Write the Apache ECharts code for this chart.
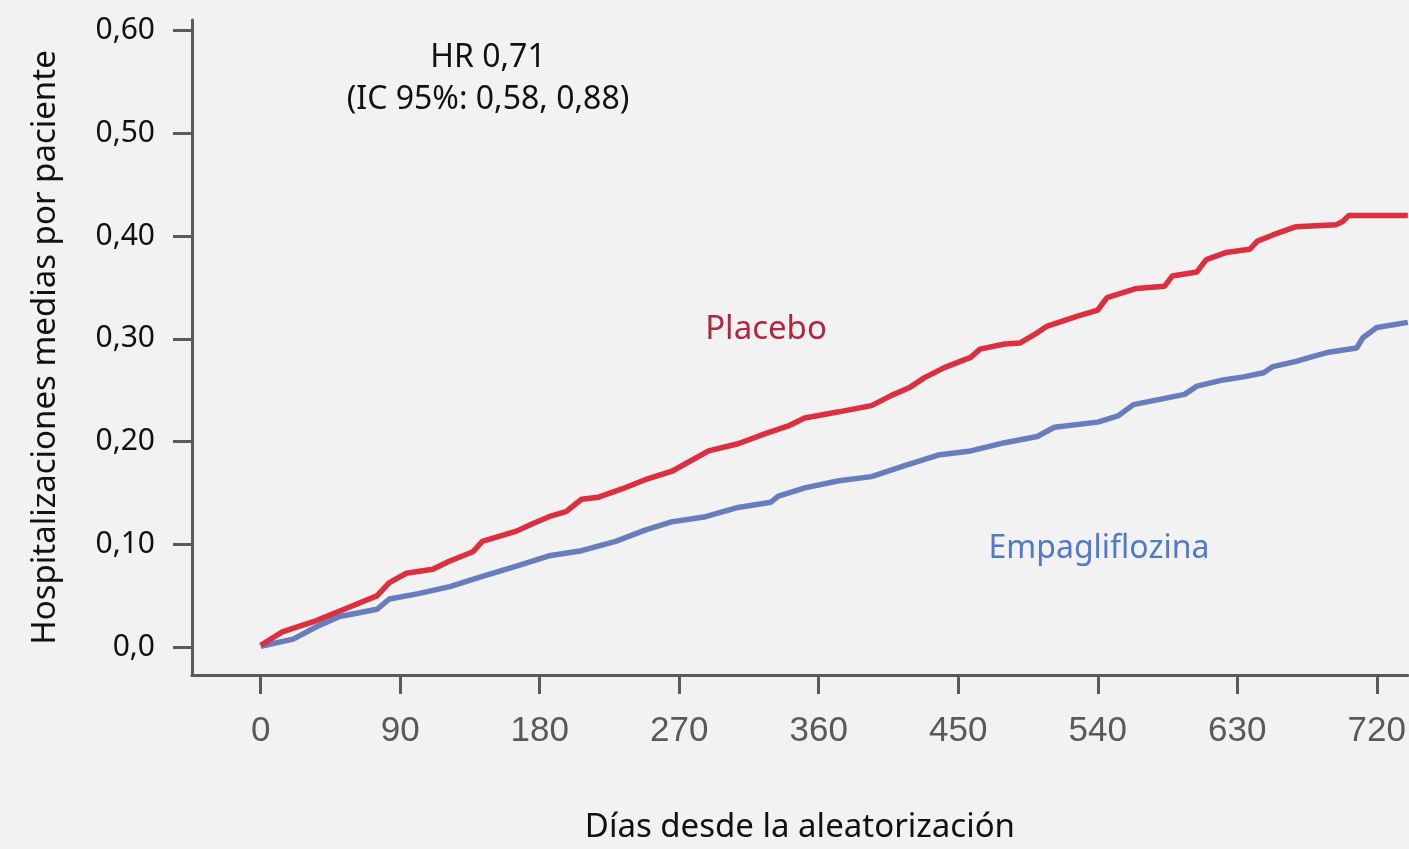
<!DOCTYPE html>
<html>
<head>
<meta charset="utf-8">
<script src="https://cdn.jsdelivr.net/npm/echarts@6/dist/echarts.min.js"></script>
<style>
  html, body { margin: 0; padding: 0; background: #f2f2f2; }
  #chart { width: 1409px; height: 849px; }
</style>
</head>
<body>
<div id="chart"></div>
<script>
// días desde la aleatorización / hospitalizaciones medias
const placeboDays = [0, 14, 36, 57, 75, 83, 94, 111, 122, 137, 143, 165, 175, 186, 197, 207, 218, 233, 248, 265, 289, 308, 326, 340, 351, 373, 394, 407, 419, 428, 441, 458, 464, 480, 490, 499, 507, 527, 540, 546, 565, 583, 588, 604, 610, 623, 638, 643, 653, 662, 668, 694, 698, 702, 740]
const placeboValues = [0.002, 0.015, 0.026, 0.039, 0.050, 0.063, 0.072, 0.076, 0.084, 0.093, 0.103, 0.113, 0.120, 0.127, 0.132, 0.144, 0.146, 0.154, 0.163, 0.171, 0.191, 0.198, 0.208, 0.215, 0.223, 0.229, 0.235, 0.245, 0.253, 0.262, 0.272, 0.282, 0.290, 0.295, 0.296, 0.304, 0.312, 0.322, 0.328, 0.340, 0.349, 0.351, 0.361, 0.365, 0.377, 0.384, 0.387, 0.395, 0.401, 0.406, 0.409, 0.411, 0.414, 0.420, 0.420]

const empaDays = [0, 21, 36, 51, 75, 83, 101, 122, 143, 165, 186, 207, 229, 248, 265, 287, 308, 329, 334, 351, 373, 394, 416, 437, 458, 480, 501, 512, 540, 553, 563, 596, 604, 621, 634, 647, 653, 668, 679, 689, 707, 711, 720, 740]
const empaValues = [0.001, 0.008, 0.020, 0.030, 0.037, 0.047, 0.052, 0.059, 0.069, 0.079, 0.089, 0.094, 0.103, 0.114, 0.122, 0.127, 0.136, 0.141, 0.147, 0.155, 0.162, 0.166, 0.177, 0.187, 0.191, 0.199, 0.205, 0.214, 0.219, 0.225, 0.236, 0.246, 0.254, 0.260, 0.263, 0.267, 0.273, 0.278, 0.283, 0.287, 0.291, 0.301, 0.311, 0.316]

const xTicks = [0, 90, 180, 270, 360, 450, 540, 630, 720]
const yTicks = [0, 0.1, 0.2, 0.3, 0.4, 0.5, 0.6]

const axisColor = '#5a5a5a'
const font = '"Noto Sans", sans-serif'

const zip = (xs, ys) => xs.map((x, i) => [x, ys[i]])

const chart = echarts.init(document.getElementById('chart'))
chart.setOption({
    backgroundColor: '#f2f2f2',
    animation: false,
    grid: { left: 192, right: 0, top: 20, bottom: 173 },
    xAxis: {
        type: 'value',
        min: -44.3,
        max: 740,
        name: 'Días desde la aleatorización',
        nameLocation: 'middle',
        nameGap: 136,
        nameTextStyle: { fontFamily: font, fontSize: 33, color: '#111' },
        axisLine: { show: true, onZero: false, lineStyle: { color: axisColor, width: 3 } },
        axisTick: { show: true, customValues: xTicks, length: 19, lineStyle: { color: axisColor, width: 3 } },
        axisLabel: {
            customValues: xTicks,
            margin: 39,
            fontFamily: '"Liberation Sans", Arial, sans-serif',
            fontSize: 35,
            color: '#595959'
        },
        splitLine: { show: false }
    },
    yAxis: {
        type: 'value',
        min: -0.0269,
        max: 0.61,
        name: 'Hospitalizaciones medias por paciente',
        nameLocation: 'middle',
        nameRotate: 90,
        nameGap: 130,
        nameTextStyle: { fontFamily: font, fontSize: 33, color: '#111' },
        axisLine: { show: true, onZero: false, lineStyle: { color: axisColor, width: 3 } },
        axisTick: { show: true, customValues: yTicks, length: 19, lineStyle: { color: axisColor, width: 3 } },
        axisLabel: {
            customValues: yTicks,
            margin: 37,
            fontFamily: font,
            fontSize: 30,
            color: '#111',
            formatter: v => v === 0 ? '0,0' : v.toFixed(2).replace('.', ',')
        },
        splitLine: { show: false }
    },
    series: [
        {
            name: 'Placebo',
            type: 'line',
            data: zip(placeboDays, placeboValues),
            showSymbol: false,
            lineStyle: { color: '#dd2f3f', width: 5.5 },
            z: 3
        },
        {
            name: 'Empagliflozina',
            type: 'line',
            data: zip(empaDays, empaValues),
            showSymbol: false,
            lineStyle: { color: '#687dbd', width: 5.5 },
            z: 2
        }
    ],
    graphic: [
        {
            type: 'text', x: 488, y: 58,
            style: { text: 'HR 0,71', font: '32px "Noto Sans"', fill: '#111', align: 'center', verticalAlign: 'middle' }
        },
        {
            type: 'text', x: 488, y: 100,
            style: { text: '(IC 95%: 0,58, 0,88)', font: '32px "Noto Sans"', fill: '#111', align: 'center', verticalAlign: 'middle' }
        },
        {
            type: 'text', x: 766, y: 330,
            style: { text: 'Placebo', font: '33px "Noto Sans"', fill: '#b3263c', align: 'center', verticalAlign: 'middle' }
        },
        {
            type: 'text', x: 1099, y: 549,
            style: { text: 'Empagliflozina', font: '32px "Noto Sans"', fill: '#4f78cf', align: 'center', verticalAlign: 'middle' }
        }
    ]
})
</script>
</body>
</html>
